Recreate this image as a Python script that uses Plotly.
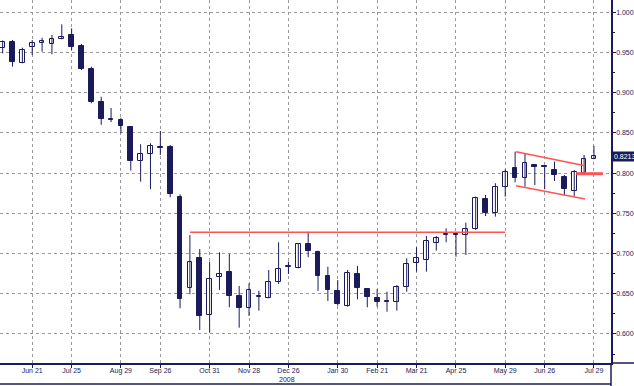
import plotly.graph_objects as go

# Weekly OHLC data (week index 0..60)
opens = [0.9560, 0.9627, 0.9373, 0.9565, 0.9615, 0.9606, 0.9664, 0.9718, 0.9580, 0.9295,
         0.8881, 0.8675, 0.8665, 0.8578, 0.8155, 0.8238, 0.8330, 0.8321, 0.7707, 0.6568,
         0.6941, 0.6235, 0.6705, 0.6775, 0.6473, 0.6327, 0.6460, 0.6451, 0.6643, 0.6833,
         0.6824, 0.7115, 0.7016, 0.6721, 0.6539, 0.6348, 0.6746, 0.6560, 0.6451, 0.6405,
         0.6402, 0.6581, 0.6877, 0.6920, 0.7135, 0.7229, 0.7233, 0.7231, 0.7302, 0.7675,
         0.7500, 0.7832, 0.8060, 0.7936, 0.8105, 0.8082, 0.8039, 0.7948, 0.7778, 0.7998,
         0.8173]
highs = [0.9650, 0.9656, 0.9560, 0.9656, 0.9684, 0.9718, 0.9850, 0.9800, 0.9606, 0.9324,
         0.8950, 0.8810, 0.8688, 0.8586, 0.8359, 0.8371, 0.8524, 0.8350, 0.7737, 0.7231,
         0.7057, 0.6899, 0.7016, 0.6995, 0.6597, 0.6630, 0.6538, 0.6796, 0.7140, 0.6899,
         0.7128, 0.7272, 0.7036, 0.6837, 0.6671, 0.6796, 0.6846, 0.6568, 0.6556, 0.6526,
         0.6609, 0.6941, 0.7078, 0.7219, 0.7219, 0.7314, 0.7252, 0.7384, 0.7707, 0.7728,
         0.7874, 0.8048, 0.8267, 0.8238, 0.8105, 0.8093, 0.8143, 0.7977, 0.8039, 0.8226,
         0.8337]
lows = [0.9490, 0.9324, 0.9366, 0.9469, 0.9510, 0.9478, 0.9664, 0.9530, 0.9283, 0.8869,
        0.8600, 0.8635, 0.8496, 0.8031, 0.7894, 0.7800, 0.8226, 0.7700, 0.6320, 0.6494,
        0.6050, 0.6020, 0.6547, 0.6332, 0.6078, 0.6224, 0.6290, 0.6444, 0.6622, 0.6746,
        0.6817, 0.6954, 0.6535, 0.6410, 0.6352, 0.6340, 0.6431, 0.6332, 0.6340, 0.6277,
        0.6290, 0.6526, 0.6775, 0.6775, 0.7036, 0.7140, 0.6961, 0.6982, 0.7293, 0.7467,
        0.7459, 0.7707, 0.7886, 0.7832, 0.7853, 0.7800, 0.7902, 0.7720, 0.7707, 0.7998,
        0.8173]
closes = [0.9627, 0.9386, 0.9531, 0.9615, 0.9643, 0.9664, 0.9697, 0.9572, 0.9291, 0.8888,
          0.8673, 0.8665, 0.8582, 0.8151, 0.8238, 0.8341, 0.8312, 0.7737, 0.6435, 0.6891,
          0.6224, 0.6683, 0.6745, 0.6476, 0.6327, 0.6547, 0.6468, 0.6643, 0.6805, 0.6841,
          0.7115, 0.7032, 0.6725, 0.6547, 0.6369, 0.6755, 0.6568, 0.6456, 0.6394, 0.6399,
          0.6581, 0.6867, 0.6939, 0.7160, 0.7190, 0.7233, 0.7229, 0.7306, 0.7687, 0.7500,
          0.7832, 0.8011, 0.7936, 0.8122, 0.8073, 0.8078, 0.7977, 0.7799, 0.8018, 0.8173,
          0.8213]

tick_positions = [3, 7, 12, 16, 21, 25, 29, 34, 38, 42, 46, 51, 55, 60]
tick_labels = ["Jun 21", "Jul 25", "Aug 29", "Sep 26", "Oct 31", "Nov 28", "Dec 26",
               "Jan 30", "Feb 21", "Mar 21", "Apr 25", "May 29", "Jun 26", "Jul 29"]

# Trend lines drawn on the chart
resistance_x = [19, 51]
resistance_y = [0.7265, 0.7265]
flag_upper_x = [52.1, 59.1]
flag_upper_y = [0.8267, 0.8093]
flag_lower_x = [52.1, 59.1]
flag_lower_y = [0.7844, 0.7679]
breakout_x = [58.2, 60.9]
breakout_y = [0.7993, 0.7993]
last_price = 0.8213

NAVY = "#1b1b5c"
RED = "#ff5454"
GRID = "#9a9a9a"
FONT = "Liberation Sans Narrow, Arial Narrow, Liberation Sans, Arial, sans-serif"

weeks = list(range(len(opens)))

wick_x, wick_y = [], []
for i, lo, hi in zip(weeks, lows, highs):
    wick_x += [i, i, None]
    wick_y += [lo, hi, None]

bases = [min(o, c) for o, c in zip(opens, closes)]
heights = [max(abs(c - o), 0.0012) for o, c in zip(opens, closes)]
fills = ["white" if c >= o else NAVY for o, c in zip(opens, closes)]

fig = go.Figure()
fig.add_trace(go.Scatter(x=wick_x, y=wick_y, mode="lines",
                         line=dict(color=NAVY, width=1), hoverinfo="skip"))
fig.add_trace(go.Bar(x=weeks, y=heights, base=bases, width=0.48,
                     marker=dict(color=fills, line=dict(color=NAVY, width=1))))

for xs, ys, w in [(resistance_x, resistance_y, 1.5), (flag_upper_x, flag_upper_y, 1.5),
                  (flag_lower_x, flag_lower_y, 1.5), (breakout_x, breakout_y, 3)]:
    fig.add_trace(go.Scatter(x=xs, y=ys, mode="lines", line=dict(color=RED, width=w),
                             hoverinfo="skip"))

fig.update_layout(
    width=634, height=386,
    margin=dict(l=0, r=23, t=0, b=23),
    paper_bgcolor="white", plot_bgcolor="white",
    showlegend=False,
    font=dict(family=FONT, size=7, color=NAVY),
    bargap=0,
)
fig.update_xaxes(
    range=[-0.27, 61.73], tickvals=tick_positions, ticktext=tick_labels,
    showgrid=True, gridcolor=GRID, griddash="dot", gridwidth=1,
    showline=True, linecolor=NAVY, linewidth=1.5,
    ticks="outside", ticklen=3, tickcolor=NAVY, zeroline=False, automargin=False,
    ticklabelstandoff=-3,
    tickfont=dict(family=FONT, size=7, color=NAVY),
)
fig.update_yaxes(
    side="right", range=[0.5639, 1.0153], tick0=0.6, dtick=0.05, tickformat=".4f",
    showgrid=True, gridcolor=GRID, griddash="dot", gridwidth=1,
    showline=True, linecolor=NAVY, linewidth=1.5,
    ticks="outside", ticklen=3, tickcolor=NAVY, zeroline=False, automargin=False,
    ticklabelstandoff=-1,
    tickfont=dict(family=FONT, size=7, color=NAVY),
    minor=dict(dtick=0.025, tick0=0.6, ticks="outside", ticklen=2, tickcolor=NAVY, showgrid=False),
)

fig.add_annotation(x=1, xref="paper", xanchor="left", xshift=1, y=last_price, yref="y",
                   text=f"{last_price:.4f}", showarrow=False, bgcolor=NAVY, borderpad=1,
                   font=dict(family=FONT, size=7, color="white"))
fig.add_annotation(x=28.9, xref="x", y=-0.0468, yref="paper", yanchor="middle",
                   text="2008", showarrow=False,
                   font=dict(family=FONT, size=7, color=NAVY))

# frame lines around the axis area
fig.add_shape(type="line", xref="paper", yref="paper", x0=1, x1=1, y0=-0.07, y1=0,
              line=dict(color=NAVY, width=1.5))
fig.add_shape(type="line", xref="paper", yref="paper", x0=1, x1=1.05, y0=0, y1=0,
              line=dict(color=NAVY, width=1.5))
fig.add_shape(type="line", xref="paper", yref="paper", x0=0, x1=1, y0=-0.058, y1=-0.058,
              line=dict(color=NAVY, width=1.5))

fig.write_html("out.html", config={"displayModeBar": False},
               post_script="document.body.style.margin='0';")
